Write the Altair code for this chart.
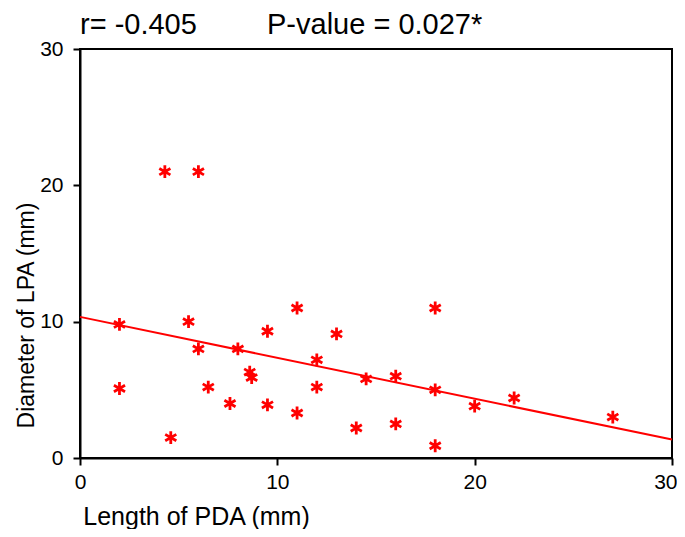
import altair as alt
import pandas as pd

# Scatter data (Length of PDA vs Diameter of LPA, mm)
pda_length = [4.3, 6.0, 2.0, 2.0, 5.5, 6.0, 6.5, 4.6, 7.6, 8.0, 8.6, 8.7, 9.5, 9.5,
              11.0, 11.0, 12.0, 12.0, 13.0, 14.0, 14.5, 16.0, 16.0, 18.0, 18.0, 18.0,
              20.0, 22.0, 27.0]
lpa_diameter = [21.0, 21.0, 9.8, 5.1, 10.0, 8.0, 5.2, 1.5, 4.0, 8.0, 6.3, 5.9, 9.3, 3.9,
                11.0, 3.3, 7.2, 5.2, 9.1, 2.2, 5.8, 6.0, 2.5, 11.0, 5.0, 0.9,
                3.8, 4.4, 3.0]

# Regression line end points
fit_x = [0, 30]
fit_y = [10.35, 1.35]

tick_values = [0, 10, 20, 30]
stat_r = "r= -0.405"
stat_p = "P-value = 0.027*"

FONT = "Liberation Sans, Arial, sans-serif"
RED = "#ff0000"

pts = pd.DataFrame({"x": pda_length, "y": lpa_diameter})
fit = pd.DataFrame({"x": fit_x, "y": fit_y})

xscale = alt.Scale(domain=[0, 30], nice=False, zero=True)
yscale = alt.Scale(domain=[0, 30], nice=False, zero=True)

xaxis = alt.Axis(values=tick_values, grid=False, domainColor="black", domainWidth=2,
                 tickColor="black", tickWidth=2, tickSize=7, labelPadding=6,
                 labelFont=FONT, labelFontSize=21, labelColor="black",
                 labelAlign=alt.expr("datum.value == 30 ? 'right' : 'center'"),
                 labelOffset=alt.expr("datum.value == 30 ? 5 : 0"),
                 title="Length of PDA (mm)", titleFont=FONT, titleFontSize=25,
                 titleFontWeight="normal", titleColor="black",
                 titleX=116, titleY=66, titleAlign="center", titleBaseline="alphabetic",
                 labelFlush=False)
yaxis = alt.Axis(values=tick_values, grid=False, domainColor="black", domainWidth=2,
                 tickColor="black", tickWidth=2, tickSize=7, labelPadding=10,
                 labelFont=FONT, labelFontSize=21, labelColor="black",
                 title="Diameter of LPA (mm)", titleFont=FONT, titleFontSize=23,
                 titleFontWeight="normal", titleColor="black",
                 titleAngle=270, titleX=-47, titleY=266, titleAlign="center",
                 titleBaseline="alphabetic", labelFlush=False)

asterisk = "M0,-1L0,1M-0.866,-0.5L0.866,0.5M-0.866,0.5L0.866,-0.5"

points = alt.Chart(pts).mark_point(
    shape=asterisk, filled=False, color=RED, strokeWidth=2.8, size=165, opacity=1
).encode(
    x=alt.X("x:Q", scale=xscale, axis=xaxis),
    y=alt.Y("y:Q", scale=yscale, axis=yaxis),
)

line = alt.Chart(fit).mark_line(color=RED, strokeWidth=2).encode(
    x=alt.X("x:Q", scale=xscale),
    y=alt.Y("y:Q", scale=yscale),
)

label_df = pd.DataFrame({"t": [stat_r, stat_p], "px": [0, 187]})
labels = alt.Chart(label_df).mark_text(
    font=FONT, fontSize=29, color="black", align="left", baseline="alphabetic"
).encode(
    text="t:N",
    x=alt.X("px:Q", scale=None),
    y=alt.value(-15),
)

chart = alt.layer(line, points, labels).properties(
    width=592, height=409,
    autosize=alt.AutoSizeParams(type="none"),
    padding={"left": 72, "top": 41, "right": 5, "bottom": 71},
).configure_view(stroke="black", strokeWidth=2)

chart.save("out.html", embed_options={"renderer": "svg", "actions": False})
